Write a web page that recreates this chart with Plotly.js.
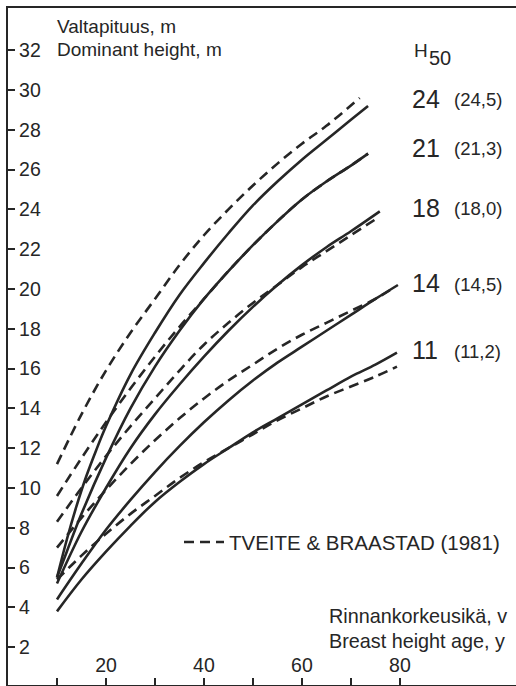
<!DOCTYPE html>
<html>
<head>
<meta charset="utf-8">
<script src="https://cdn.plot.ly/plotly-3.0.1.min.js"></script>
<style>html,body{margin:0;padding:0;background:#fff;}#chart{width:516px;height:686px;}</style>
</head>
<body>
<div id="chart"></div>
<script>
// Solid curves (this study): breast height age (y) vs dominant height (m)
const s24Age = [10,12,14,16,18,20,25,30,35,40,45,50,55,60,65,70,73.5];
const s24H   = [5.5,7.4,9.1,10.6,11.9,13.1,15.7,17.8,19.7,21.3,22.8,24.2,25.4,26.5,27.5,28.5,29.2];
const s21Age = [10,12,15,20,25,30,35,40,45,50,55,60,65,70,73.5];
const s21H   = [5.5,6.8,8.7,11.5,14.0,16.1,17.9,19.5,20.9,22.2,23.4,24.5,25.4,26.2,26.8];
const s18Age = [10,15,20,25,30,35,40,45,50,55,60,65,70,75.9];
const s18H   = [5.2,7.8,10.0,12.0,13.7,15.2,16.6,17.9,19.1,20.2,21.2,22.1,22.9,23.9];
const s14Age = [10,15,20,25,30,35,40,45,50,55,60,65,70,75,79.6];
const s14H   = [4.4,6.2,7.9,9.4,10.8,12.1,13.3,14.4,15.4,16.3,17.1,17.9,18.7,19.5,20.2];
const s11Age = [10,15,20,25,30,35,40,45,50,55,60,65,70,75,79.4];
const s11H   = [3.8,5.4,6.8,8.1,9.3,10.3,11.2,12.0,12.8,13.5,14.2,14.9,15.6,16.2,16.8];
// Dashed curves: Tveite & Braastad (1981)
const d24Age = [10,15,20,25,30,35,40,45,50,55,60,65,71.8];
const d24H   = [11.2,13.7,15.9,17.8,19.5,21.2,22.7,24.0,25.2,26.3,27.3,28.2,29.6];
const d21Age = [10,15,20,25,30,35,40,45,50,55,60,65,70,73.5];
const d21H   = [9.6,11.5,13.3,15.0,16.6,18.1,19.5,20.9,22.2,23.4,24.5,25.4,26.2,26.8];
const d18Age = [10,15,20,25,30,35,40,45,50,55,60,65,70,75];
const d18H   = [8.3,10.0,11.6,13.1,14.5,15.9,17.2,18.3,19.3,20.2,21.1,21.9,22.7,23.5];
const d14Age = [10,15,20,25,30,35,40,45,50,55,60,65,70,75,79];
const d14H   = [7.0,8.5,9.9,11.2,12.4,13.5,14.5,15.4,16.2,17.0,17.7,18.3,18.9,19.5,20.1];
const d11Age = [10,15,20,25,30,35,40,45,50,55,60,65,70,75,79.4];
const d11H   = [5.4,6.6,7.7,8.7,9.6,10.5,11.3,12.0,12.7,13.4,14.0,14.6,15.1,15.6,16.1];

const siteIndex = ['24','21','18','14','11'];
const tveiteIndex = ['(24,5)','(21,3)','(18,0)','(14,5)','(11,2)'];
const labelH = [29.55,27.09,24.07,20.30,16.93];

const xTickVals = [3,4.5,10,20,30,40,50,60,70,80];
const xTickText = ['','','','20','','40','','60','','80'];
const yTickVals = [2,4,6,8,10,12,14,16,18,20,22,24,26,28,30,32];

const ink = '#262626';
const solid = {color: ink, width: 2.6};
const dashed = {color: ink, width: 2.6, dash: '10px,6px'};

const traces = [];
[[s24Age,s24H],[s21Age,s21H],[s18Age,s18H],[s14Age,s14H],[s11Age,s11H]].forEach(function(c){
  traces.push({x:c[0], y:c[1], type:'scatter', mode:'lines', line:Object.assign({shape:'spline', smoothing:1}, solid), showlegend:false, hoverinfo:'skip'});
});
[[d24Age,d24H],[d21Age,d21H],[d18Age,d18H],[d14Age,d14H],[d11Age,d11H]].forEach(function(c,i){
  traces.push({x:c[0], y:c[1], type:'scatter', mode:'lines', line:Object.assign({shape:'spline', smoothing:1}, dashed),
    name:'TVEITE & BRAASTAD (1981)', showlegend:i===0, hoverinfo:'skip'});
});

const font = 'Liberation Sans, Arial, Helvetica, sans-serif';
const annotations = [
  {text:'Valtapituus, m', x:9.6, y:33.17, size:19},
  {text:'Dominant height, m', x:9.6, y:32.01, size:19},
  {text:'H', x:82.4, y:32.0, size:19},
  {text:'50', x:85.6, y:31.6, size:20},
  {text:'Rinnankorkeusikä, v', x:65.1, y:3.57, size:19.8},
  {text:'Breast height age, y', x:65.1, y:2.31, size:19.8}
].map(function(a){
  return {text:a.text, x:a.x, y:a.y, xref:'x', yref:'y', xanchor:'left', yanchor:'middle',
    showarrow:false, font:{family:font, size:a.size, color:ink}};
});
siteIndex.forEach(function(s,i){
  annotations.push({text:s, x:82.0, y:labelH[i], xref:'x', yref:'y', xanchor:'left', yanchor:'middle',
    showarrow:false, font:{family:font, size:25, color:ink}});
  annotations.push({text:tveiteIndex[i], x:90.6, y:labelH[i]-0.05, xref:'x', yref:'y', xanchor:'left', yanchor:'middle',
    showarrow:false, font:{family:font, size:18.5, color:ink}});
});

const layout = {
  width:516, height:686,
  margin:{l:8, r:0, t:8, b:1, pad:0},
  paper_bgcolor:'#fff', plot_bgcolor:'#fff',
  font:{family:font, color:ink, size:19},
  xaxis:{range:[0,103.7], showgrid:false, zeroline:false, showline:true, mirror:true, linecolor:ink, linewidth:2,
    ticks:'inside', ticklen:7, tickwidth:2, tickcolor:ink, tickvals:xTickVals, ticktext:xTickText, tickangle:0,
    ticklabelposition:'inside', ticklabelstandoff:3, tickfont:{family:font, size:19.5, color:ink}},
  yaxis:{range:[0.1,34.12], showgrid:false, zeroline:false, showline:true, linecolor:ink, linewidth:2,
    ticks:'inside', ticklen:7, tickwidth:2, tickcolor:ink, tickvals:yTickVals, tickangle:0,
    ticklabelposition:'inside', ticklabelstandoff:5, tickfont:{family:font, size:19.5, color:ink}},
  showlegend:true,
  legend:{x:0.3366, y:0.211, xanchor:'left', yanchor:'middle', bgcolor:'rgba(0,0,0,0)', borderwidth:0,
    font:{family:font, size:20.5, color:ink}, itemwidth:40},
  annotations:annotations
};

Plotly.newPlot('chart', traces, layout, {staticPlot:true, displayModeBar:false});
</script>
</body>
</html>
